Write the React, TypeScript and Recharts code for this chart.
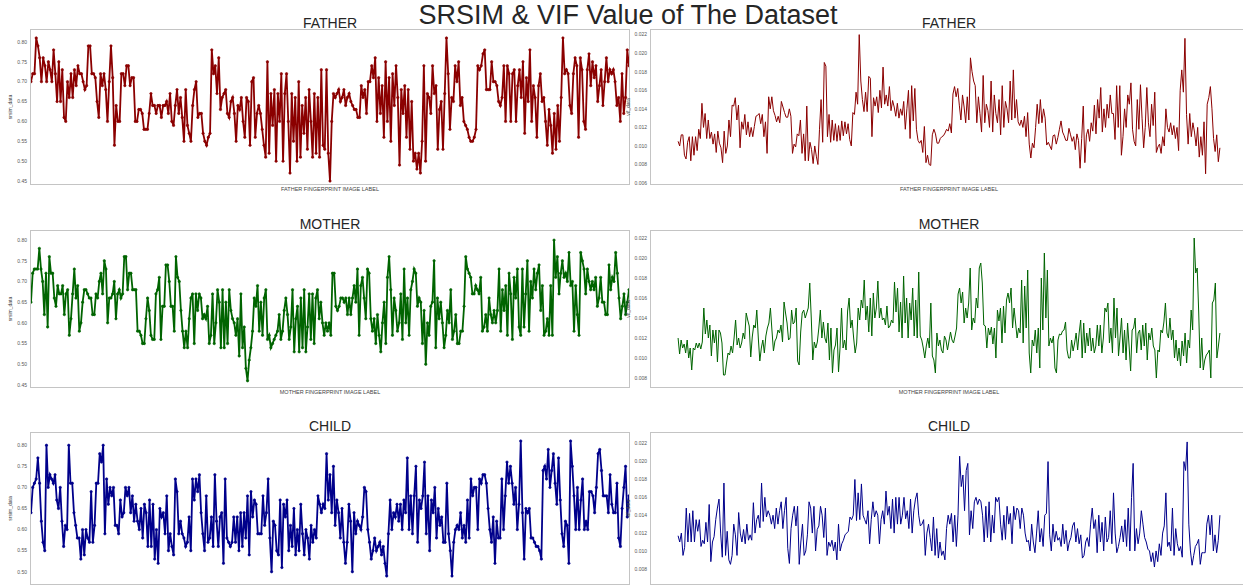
import { LineChart, Line, XAxis, YAxis } from "recharts"

// SRSIM values (left column)
const fatherSrsim = [
  0.70,0.72,0.72,0.81,0.79,0.76,0.70,0.76,0.74,0.70,0.75,
  0.73,0.70,0.78,0.72,0.65,0.75,0.65,0.73,0.61,0.60,
  0.70,0.66,0.72,0.66,0.73,0.69,0.74,0.72,0.72,0.70,0.68,0.69,0.79,0.79,
  0.72,0.72,0.71,0.65,0.61,0.72,0.69,0.72,0.68,0.60,0.70,0.79,0.71,0.54,0.64,0.60,
  0.60,0.72,0.72,0.69,0.74,0.74,0.69,0.71,0.71,0.60,0.60,0.63,
  0.63,0.62,0.58,0.58,0.58,0.62,0.67,0.64,0.64,0.62,0.64,0.64,0.61,
  0.64,0.64,0.65,0.62,0.67,0.60,0.59,0.64,0.68,0.62,0.66,0.61,0.55,0.68,0.59,
  0.57,0.55,0.64,0.68,0.70,0.61,0.62,0.62,0.57,0.55,0.54,0.56,0.57,
  0.78,0.72,0.74,0.67,0.76,0.63,0.66,0.67,0.68,0.62,0.61,0.65,0.66,
  0.62,0.55,0.64,0.63,0.66,0.60,0.56,0.66,0.65,0.54,0.70,0.71,
  0.56,0.62,0.64,0.62,0.58,0.54,0.51,0.75,0.52,0.67,0.59,0.68,
  0.50,0.67,0.60,0.72,0.50,0.67,0.72,0.60,0.47,0.67,0.55,
  0.66,0.50,0.70,0.51,0.64,0.57,0.66,0.53,0.68,0.60,0.51,0.67,
  0.52,0.66,0.51,0.73,0.54,0.53,0.73,0.52,0.45,0.60,
  0.67,0.66,0.67,0.68,0.65,0.66,0.68,0.64,0.66,0.67,
  0.65,0.64,0.63,0.63,0.61,0.61,0.69,0.66,0.68,0.62,0.70,
  0.70,0.74,0.71,0.76,0.60,0.71,0.62,0.69,0.56,0.75,0.60,0.71,
  0.55,0.72,0.64,0.74,0.66,0.49,0.68,0.62,0.69,0.56,0.68,
  0.53,0.65,0.50,0.52,0.48,0.52,0.47,0.55,0.74,0.50,0.67,
  0.66,0.62,0.74,0.67,0.69,0.53,0.63,0.65,0.53,0.67,
  0.81,0.72,0.58,0.66,0.65,0.74,0.70,0.75,0.64,
  0.66,0.60,0.59,0.58,0.56,0.55,0.55,0.56,0.58,
  0.74,0.73,0.74,0.77,0.78,0.68,0.68,0.68,0.75,0.70,
  0.70,0.69,0.65,0.64,0.66,0.74,0.60,0.74,0.72,0.60,
  0.72,0.73,0.60,0.69,0.73,0.66,0.75,0.57,0.71,0.65,0.78,0.60,
  0.69,0.66,0.56,0.69,0.72,0.65,0.66,0.60,0.54,0.63,
  0.59,0.52,0.62,0.53,0.64,0.55,0.66,0.81,0.72,0.73,0.72,
  0.64,0.62,0.72,0.76,0.74,0.56,0.76,0.73,0.60,0.58,
  0.73,0.77,0.69,0.75,0.71,0.74,0.65,0.69,0.73,
  0.64,0.70,0.76,0.70,0.73,0.72,0.73,0.70,0.64,0.66,0.60,
  0.72,0.62,0.66,0.78,0.74,
]

const motherSrsim = [
  0.65,0.72,0.73,0.73,0.73,0.78,0.73,0.70,0.62,0.72,0.59,
  0.76,0.72,0.72,0.66,0.64,0.69,0.67,0.67,0.69,0.62,0.67,0.68,
  0.57,0.61,0.67,0.73,0.66,0.69,0.58,0.60,0.65,0.68,0.68,0.67,
  0.66,0.66,0.62,0.62,0.67,0.66,0.70,0.72,0.67,0.75,0.73,0.60,0.66,0.66,
  0.67,0.70,0.61,0.67,0.68,0.66,0.67,0.76,0.76,0.68,0.72,0.72,0.68,
  0.68,0.68,0.58,0.58,0.57,0.55,0.55,0.61,0.66,0.63,0.57,0.56,0.56,
  0.67,0.68,0.71,0.56,0.64,0.64,0.74,0.74,0.70,0.64,0.64,0.58,
  0.76,0.71,0.70,0.63,0.58,0.54,0.58,0.54,0.61,0.66,0.67,0.55,
  0.67,0.63,0.67,0.66,0.61,0.62,0.61,0.64,0.55,0.57,0.67,0.55,0.60,
  0.68,0.65,0.54,0.68,0.54,0.65,0.55,0.68,0.63,0.61,0.60,0.57,
  0.61,0.52,0.67,0.54,0.59,0.49,0.46,0.51,0.54,
  0.58,0.66,0.64,0.69,0.58,0.65,0.57,0.66,0.68,0.56,0.57,0.54,
  0.55,0.56,0.57,0.58,0.62,0.56,0.58,0.63,0.66,0.62,0.56,0.59,0.68,
  0.53,0.61,0.64,0.53,0.66,0.54,0.68,0.53,0.59,0.67,0.56,0.67,
  0.55,0.66,0.68,0.61,0.65,0.60,0.57,0.60,0.58,0.60,0.57,
  0.72,0.72,0.64,0.63,0.64,0.66,0.66,0.65,0.66,0.62,0.66,
  0.62,0.66,0.69,0.65,0.73,0.57,0.69,0.71,0.66,0.61,0.73,0.72,0.61,
  0.58,0.61,0.55,0.62,0.57,0.53,0.60,0.65,0.55,0.71,0.76,0.68,
  0.57,0.66,0.63,0.58,0.60,0.67,0.56,0.73,0.60,0.66,0.57,0.68,
  0.70,0.73,0.72,0.64,0.66,0.65,0.55,0.63,0.50,0.60,0.57,0.64,
  0.65,0.75,0.54,0.66,0.61,0.65,0.60,0.54,0.57,0.63,0.60,
  0.68,0.56,0.58,0.62,0.55,0.55,0.58,0.58,0.64,0.76,0.73,
  0.72,0.71,0.67,0.67,0.69,0.68,0.67,0.71,0.58,0.59,0.62,0.58,
  0.66,0.62,0.60,0.63,0.60,0.63,0.73,0.58,0.68,0.63,0.69,0.57,
  0.72,0.67,0.56,0.71,0.66,0.73,0.59,0.57,0.73,0.59,0.67,
  0.75,0.58,0.70,0.66,0.73,0.68,0.72,0.74,0.63,0.69,0.57,0.58,
  0.61,0.57,0.69,0.57,0.80,0.71,0.76,0.67,0.72,0.75,
  0.71,0.72,0.70,0.77,0.69,0.70,0.58,0.69,0.62,0.57,0.77,
  0.75,0.73,0.67,0.73,0.70,0.68,0.70,0.68,0.71,0.64,0.66,
  0.71,0.65,0.65,0.62,0.62,0.74,0.68,0.71,0.70,0.77,0.72,0.66,0.61,
  0.64,0.67,0.62,0.65,0.68,
]

const childSrsim = [
  0.64,0.70,0.71,0.72,0.77,0.71,0.62,0.57,0.55,0.80,0.70,0.73,
  0.72,0.71,0.73,0.67,0.65,0.70,0.62,0.56,0.61,0.60,0.80,
  0.71,0.71,0.64,0.61,0.58,0.58,0.53,0.60,0.54,0.60,0.58,0.57,0.69,
  0.57,0.61,0.71,0.71,0.78,0.76,0.80,0.59,0.72,0.66,0.70,0.68,0.70,
  0.61,0.61,0.59,0.67,0.63,0.64,0.70,0.68,0.70,0.64,0.68,0.62,
  0.66,0.62,0.60,0.65,0.58,0.66,0.64,0.56,0.67,0.56,0.66,
  0.53,0.60,0.52,0.65,0.63,0.64,0.59,0.68,0.55,0.59,0.56,
  0.54,0.72,0.69,0.59,0.62,0.59,0.58,0.56,0.57,0.63,0.55,0.72,
  0.67,0.72,0.69,0.73,0.64,0.59,0.55,0.68,0.57,0.58,0.63,0.56,
  0.73,0.62,0.56,0.63,0.64,0.52,0.72,0.58,0.57,0.56,0.57,0.63,
  0.57,0.63,0.55,0.64,0.56,0.64,0.58,0.68,0.54,0.69,0.63,
  0.67,0.66,0.59,0.59,0.59,0.68,0.61,0.64,0.72,0.58,0.50,0.62,
  0.61,0.55,0.54,0.67,0.51,0.66,0.63,0.67,0.55,0.61,0.56,
  0.65,0.54,0.60,0.55,0.66,0.59,0.54,0.60,0.58,0.53,0.61,0.57,
  0.60,0.58,0.68,0.66,0.64,0.66,0.65,0.78,0.67,
  0.73,0.64,0.75,0.61,0.67,0.64,0.58,0.65,0.57,0.52,0.57,0.66,
  0.62,0.50,0.64,0.59,0.62,0.61,0.60,0.63,0.70,0.69,0.60,
  0.57,0.53,0.55,0.58,0.55,0.56,0.57,0.54,0.56,0.52,0.49,0.59,
  0.67,0.60,0.64,0.63,0.66,0.62,0.66,0.60,0.67,0.64,0.77,0.60,
  0.68,0.59,0.68,0.75,0.57,0.67,0.65,0.68,0.76,0.59,0.68,
  0.55,0.67,0.64,0.70,0.58,0.65,0.61,0.63,0.57,0.57,0.71,
  0.59,0.55,0.49,0.57,0.60,0.61,0.60,0.64,0.58,0.61,0.57,
  0.67,0.58,0.72,0.68,0.70,0.70,0.60,0.72,0.71,0.73,0.73,
  0.71,0.65,0.60,0.57,0.63,0.52,0.62,0.58,0.58,0.72,0.60,
  0.68,0.76,0.71,0.75,0.71,0.66,0.70,0.60,0.66,0.81,0.64,0.53,
  0.65,0.64,0.65,0.58,0.58,0.57,0.56,0.56,0.55,0.53,0.74,
  0.75,0.72,0.79,0.70,0.74,0.78,0.71,0.66,0.77,0.67,
  0.59,0.56,0.62,0.61,0.52,0.81,0.75,0.68,0.60,0.70,0.60,
  0.67,0.72,0.60,0.62,0.60,0.69,0.69,0.68,0.64,0.70,0.78,
  0.79,0.74,0.68,0.68,0.68,0.64,0.73,0.66,0.64,0.64,0.71,0.58,0.56,
  0.65,0.70,0.75,0.63,0.68,
]

// VIF values (right column)
const fatherVif = [
  0.0105,0.0100,0.0112,0.0112,0.0090,0.0086,0.0104,0.0110,0.0084,0.0110,0.0090,0.0110,0.0095,
  0.0118,0.0108,0.0146,0.0120,0.0135,0.0108,0.0128,0.0108,0.0115,0.0102,0.0113,0.0093,0.0116,0.0103,0.0098,0.0082,
  0.0116,0.0092,0.0100,0.0128,0.0110,0.0144,0.0143,0.0152,0.0128,0.0144,0.0098,0.0126,
  0.0118,0.0134,0.0112,0.0126,0.0110,0.0120,0.0110,0.0121,0.0132,0.0133,0.0135,0.0124,
  0.0134,0.0110,0.0126,0.0092,0.0153,0.0140,0.0153,0.0138,0.0133,0.0126,0.0132,0.0125,
  0.0148,0.0142,0.0136,0.0131,0.0131,0.0140,0.0132,0.0092,0.0102,0.0099,0.0113,0.0111,
  0.0128,0.0092,0.0113,0.0084,0.0143,0.0084,0.0104,0.0096,0.0081,0.0100,0.0089,0.0080,
  0.0118,0.0150,0.0104,0.0190,0.0186,0.0110,0.0134,0.0104,0.0128,0.0106,0.0124,0.0105,
  0.0122,0.0106,0.0127,0.0111,0.0126,0.0113,0.0124,0.0107,0.0100,0.0136,0.0134,0.0158,
  0.0145,0.0220,0.0170,0.0150,0.0137,0.0158,0.0137,0.0175,0.0173,0.0110,0.0152,0.0143,0.0153,
  0.0136,0.0160,0.0141,0.0185,0.0145,0.0155,0.0143,0.0164,0.0138,0.0149,0.0142,0.0132,
  0.0146,0.0130,0.0140,0.0133,0.0148,0.0118,0.0140,0.0160,0.0108,0.0165,0.0127,0.0162,
  0.0118,0.0106,0.0103,0.0106,0.0093,0.0121,0.0082,0.0090,0.0080,0.0079,0.0112,0.0118,
  0.0113,0.0103,0.0103,0.0108,0.0110,0.0111,0.0114,0.0118,0.0116,0.0124,0.0114,0.0156,
  0.0164,0.0153,0.0162,0.0144,0.0128,0.0155,0.0142,0.0125,0.0153,0.0128,0.0195,0.0180,0.0170,
  0.0165,0.0125,0.0153,0.0135,0.0115,0.0176,0.0125,0.0145,0.0138,0.0120,0.0170,0.0115,0.0155,
  0.0135,0.0125,0.0150,0.0112,0.0165,0.0120,0.0148,0.0140,0.0125,0.0170,0.0128,0.0182,0.0130,
  0.0150,0.0126,0.0122,0.0128,0.0120,0.0132,0.0110,0.0136,0.0102,0.0087,0.0103,0.0098,
  0.0120,0.0145,0.0124,0.0150,0.0125,0.0140,0.0130,0.0101,0.0104,0.0100,0.0096,0.0111,0.0112,
  0.0102,0.0109,0.0118,0.0127,0.0115,0.0111,0.0106,0.0106,0.0119,0.0112,0.0105,0.0110,0.0096,
  0.0113,0.0106,0.0076,0.0108,0.0143,0.0082,0.0112,0.0118,0.0105,0.0125,0.0116,0.0144,0.0113,
  0.0150,0.0130,0.0163,0.0115,0.0140,0.0120,0.0145,0.0130,0.0155,0.0135,0.0135,0.0107,0.0165,
  0.0120,0.0165,0.0090,0.0110,0.0140,0.0120,0.0155,0.0145,0.0168,0.0118,0.0105,0.0100,0.0150,
  0.0118,0.0166,0.0130,0.0098,0.0120,0.0163,0.0125,0.0110,0.0145,0.0122,0.0158,0.0093,0.0099,
  0.0102,0.0092,0.0110,0.0100,0.0140,0.0120,0.0115,0.0125,0.0112,0.0122,0.0108,0.0120,0.0095,
  0.0160,0.0182,0.0158,0.0216,0.0134,0.0102,0.0135,0.0110,0.0125,0.0115,0.0100,
  0.0120,0.0088,0.0110,0.0090,0.0126,0.0070,0.0145,0.0152,0.0164,0.0140,0.0108,0.0094,0.0112,0.0083,0.0098,
]

const motherVif = [
  0.0120,0.0104,0.0118,0.0110,0.0114,0.0105,0.0118,0.0100,0.0110,0.0088,0.0110,0.0108,0.0115,
  0.0110,0.0115,0.0109,0.0116,0.0150,0.0124,0.0138,0.0120,0.0133,0.0102,0.0128,0.0115,0.0128,0.0096,0.0128,
  0.0125,0.0115,0.0083,0.0083,0.0095,0.0105,0.0103,0.0112,0.0105,0.0120,0.0138,0.0113,
  0.0120,0.0110,0.0115,0.0125,0.0119,0.0145,0.0138,0.0132,0.0101,0.0121,0.0133,0.0130,0.0148,
  0.0120,0.0097,0.0110,0.0118,0.0105,0.0122,0.0130,0.0135,0.0150,0.0128,0.0107,0.0117,0.0120,
  0.0128,0.0125,0.0133,0.0116,0.0156,0.0145,0.0135,0.0118,0.0120,0.0148,0.0134,0.0136,0.0150,
  0.0097,0.0093,0.0126,0.0145,0.0148,0.0140,0.0145,0.0150,0.0175,0.0140,0.0098,0.0116,0.0110,
  0.0116,0.0130,0.0148,0.0120,0.0136,0.0120,0.0115,0.0135,0.0098,0.0130,0.0085,0.0108,0.0113,
  0.0130,0.0086,0.0110,0.0150,0.0110,0.0118,0.0108,0.0147,0.0160,0.0130,0.0138,0.0120,0.0105,
  0.0115,0.0150,0.0138,0.0158,0.0150,0.0178,0.0138,0.0152,0.0126,0.0160,0.0122,0.0165,0.0140,
  0.0150,0.0177,0.0140,0.0150,0.0138,0.0140,0.0133,0.0152,0.0130,0.0132,0.0138,0.0135,0.0176,
  0.0146,0.0170,0.0126,0.0156,0.0120,0.0182,0.0135,0.0160,0.0120,0.0155,0.0138,0.0170,0.0122,
  0.0158,0.0120,0.0186,0.0122,0.0118,0.0110,0.0100,0.0112,0.0120,0.0110,0.0155,0.0102,0.0098,0.0085,
  0.0125,0.0112,0.0118,0.0108,0.0105,0.0122,0.0118,0.0108,0.0117,0.0126,0.0118,0.0115,0.0122,
  0.0130,0.0164,0.0170,0.0155,0.0166,0.0135,0.0150,0.0140,0.0155,0.0190,0.0128,0.0140,0.0135,
  0.0160,0.0150,0.0190,0.0195,0.0175,0.0133,0.0132,0.0110,0.0130,0.0123,0.0131,0.0114,0.0130,
  0.0100,0.0148,0.0137,0.0150,0.0115,0.0152,0.0125,0.0158,0.0165,0.0155,0.0170,0.0130,0.0150,
  0.0135,0.0120,0.0130,0.0125,0.0178,0.0115,0.0172,0.0130,0.0188,0.0105,0.0085,0.0118,0.0112,0.0128,
  0.0105,0.0130,0.0090,0.0180,0.0128,0.0205,0.0140,0.0188,0.0112,0.0120,0.0115,0.0122,
  0.0090,0.0085,0.0118,0.0124,0.0123,0.0127,0.0128,0.0136,0.0108,0.0100,0.0100,0.0118,0.0107,0.0115,
  0.0125,0.0108,0.0125,0.0138,0.0100,0.0135,0.0105,0.0125,0.0112,0.0130,0.0107,0.0120,0.0105,
  0.0112,0.0133,0.0112,0.0133,0.0105,0.0120,0.0150,0.0146,0.0155,0.0115,0.0130,0.0105,0.0160,
  0.0120,0.0150,0.0102,0.0120,0.0140,0.0105,0.0128,0.0098,0.0135,0.0112,0.0087,0.0128,0.0130,
  0.0140,0.0105,0.0125,0.0128,0.0108,0.0133,0.0112,0.0135,0.0098,0.0125,0.0118,0.0130,0.0112,
  0.0108,0.0080,0.0108,0.0106,0.0128,0.0125,0.0136,0.0155,0.0125,0.0120,0.0140,0.0118,0.0128,
  0.0100,0.0118,0.0097,0.0110,0.0092,0.0117,0.0102,0.0125,0.0095,0.0118,0.0110,0.0148,0.0128,
  0.0220,0.0185,0.0190,0.0145,0.0090,0.0120,0.0088,0.0098,0.0103,0.0105,0.0108,0.0080,0.0155,0.0158,0.0175,0.0100,0.0112,0.0125,
]

const childVif = [
  0.0117,0.0110,0.0120,0.0095,0.0104,0.0148,0.0110,0.0142,0.0110,0.0145,0.0110,0.0135,
  0.0122,0.0135,0.0105,0.0112,0.0108,0.0132,0.0110,0.0152,0.0088,0.0110,0.0116,0.0135,
  0.0148,0.0158,0.0120,0.0093,0.0176,0.0095,0.0122,0.0090,0.0085,0.0095,0.0130,0.0118,
  0.0095,0.0143,0.0120,0.0110,0.0124,0.0108,0.0130,0.0112,0.0118,0.0112,0.0154,0.0120,0.0135,
  0.0140,0.0126,0.0176,0.0133,0.0160,0.0138,0.0145,0.0140,0.0130,0.0140,0.0125,0.0148,
  0.0130,0.0145,0.0155,0.0125,0.0145,0.0160,0.0103,0.0086,0.0125,0.0140,0.0150,0.0128,0.0150,
  0.0085,0.0110,0.0130,0.0095,0.0100,0.0118,0.0155,0.0148,0.0120,0.0150,0.0100,0.0124,
  0.0128,0.0150,0.0140,0.0115,0.0148,0.0095,0.0110,0.0105,0.0112,0.0100,0.0110,0.0090,
  0.0130,0.0100,0.0108,0.0112,0.0118,0.0120,0.0122,0.0138,0.0135,0.0140,0.0180,0.0134,
  0.0165,0.0135,0.0175,0.0140,0.0135,0.0130,0.0145,0.0108,0.0135,0.0155,0.0138,0.0145,0.0140,
  0.0108,0.0135,0.0145,0.0130,0.0167,0.0140,0.0150,0.0125,0.0158,0.0120,0.0160,0.0130,0.0160,
  0.0130,0.0140,0.0160,0.0136,0.0145,0.0125,0.0158,0.0120,0.0145,0.0158,0.0165,0.0140,
  0.0128,0.0130,0.0135,0.0095,0.0120,0.0130,0.0115,0.0100,0.0138,0.0095,0.0125,0.0092,
  0.0110,0.0095,0.0100,0.0090,0.0125,0.0140,0.0130,0.0142,0.0110,0.0140,0.0105,0.0140,
  0.0206,0.0172,0.0185,0.0145,0.0190,0.0198,0.0118,0.0145,0.0125,0.0155,0.0160,0.0152,
  0.0158,0.0155,0.0140,0.0110,0.0150,0.0115,0.0155,0.0110,0.0140,0.0120,0.0160,0.0155,
  0.0160,0.0130,0.0112,0.0140,0.0113,0.0150,0.0130,0.0142,0.0108,0.0150,0.0135,0.0148,
  0.0145,0.0125,0.0148,0.0140,0.0120,0.0110,0.0112,0.0100,0.0130,0.0110,0.0098,0.0120,
  0.0145,0.0110,0.0125,0.0105,0.0140,0.0142,0.0200,0.0118,0.0100,0.0130,0.0110,0.0122,
  0.0112,0.0115,0.0105,0.0130,0.0108,0.0123,0.0100,0.0110,0.0115,0.0128,0.0132,0.0110,
  0.0125,0.0108,0.0118,0.0092,0.0095,0.0110,0.0115,0.0105,0.0130,0.0148,0.0125,0.0135,
  0.0098,0.0140,0.0110,0.0132,0.0100,0.0138,0.0110,0.0115,0.0145,0.0108,0.0165,0.0120,
  0.0098,0.0105,0.0115,0.0128,0.0110,0.0135,0.0105,0.0148,0.0100,0.0160,0.0198,0.0100,
  0.0125,0.0108,0.0120,0.0145,0.0130,0.0115,0.0110,0.0102,0.0100,0.0088,0.0098,0.0082,
  0.0100,0.0088,0.0108,0.0095,0.0120,0.0128,0.0165,0.0105,0.0110,0.0100,0.0148,0.0095,
  0.0125,0.0108,0.0100,0.0105,0.0093,0.0200,0.0190,0.0222,0.0130,0.0100,0.0084,0.0095,
  0.0105,0.0108,0.0113,0.0085,0.0098,0.0098,0.0098,0.0130,0.0140,0.0118,0.0140,0.0100,0.0118,0.0098,0.0112,0.0140,
]

const srsimTicks = [0.45, 0.5, 0.55, 0.6, 0.65, 0.7, 0.75, 0.8]
const childSrsimTicks = [0.5, 0.55, 0.6, 0.65, 0.7, 0.75, 0.8]
const fatherVifTicks = [0.006, 0.008, 0.01, 0.012, 0.014, 0.016, 0.018, 0.02, 0.022]
const vifTicks = [0.008, 0.01, 0.012, 0.014, 0.016, 0.018, 0.02, 0.022]

const FONT = "'Liberation Sans', Arial, sans-serif"

type PanelProps = {
  values: number[]
  left: number
  top: number
  width: number
  height: number
  yDomain: [number, number]
  yTicks: number[]
  digits: number
  color: string
  markers: boolean
}

function Panel({ values, left, top, width, height, yDomain, yTicks, digits, color, markers }: PanelProps) {
  const rows = values.map((v, i) => ({ i, v }))
  const n = values.length - 1
  // right column keeps matplotlib's 5% x margin, left column runs edge to edge
  const xDomain = markers ? [0, n] : [-n * 0.05, n * 1.05]
  const axisW = 30
  const pad = 6 // room so the end tick labels are not clipped
  return (
    <>
      <div
        style={{
          position: "absolute",
          left: left - 1,
          top: top - 1,
          width: width + 2,
          height: height + 2,
          border: "1.5px solid #c4c4c4",
          boxSizing: "border-box",
        }}
      />
      <div style={{ position: "absolute", left: left - axisW, top: top - pad }}>
        <LineChart width={width + axisW} height={height + pad * 2} data={rows} margin={{ top: pad, right: 0, bottom: pad, left: 0 }}>
          <XAxis dataKey="i" type="number" domain={xDomain} hide allowDataOverflow />
          <YAxis
            type="number"
            width={axisW}
            domain={yDomain}
            ticks={yTicks}
            interval={0}
            allowDataOverflow
            axisLine={false}
            tickLine={false}
            tickSize={2}
            tick={{ fontSize: 5, fill: "#555", fontFamily: FONT }}
            tickFormatter={(v: number) => v.toFixed(digits)}
          />
          <Line
            type="linear"
            dataKey="v"
            stroke={color}
            strokeWidth={markers ? 1.8 : 1}
            dot={markers ? { r: 1.2, fill: color, stroke: color, strokeWidth: 0.6 } : false}
            isAnimationActive={false}
          />
        </LineChart>
      </div>
    </>
  )
}

const rowsLayout = [
  { name: "FATHER", top: 30, height: 154, srsim: fatherSrsim, vif: fatherVif, color: "#8b0000", showLabel: true,
    sDomain: [0.4425, 0.83] as [number, number], sTicks: srsimTicks,
    vDomain: [0.0059, 0.0225] as [number, number], vTicks: fatherVifTicks },
  { name: "MOTHER", top: 231, height: 156, srsim: motherSrsim, vif: motherVif, color: "#006400", showLabel: true,
    sDomain: [0.445, 0.822] as [number, number], sTicks: srsimTicks,
    vDomain: [0.0071, 0.0227] as [number, number], vTicks: vifTicks },
  { name: "CHILD", top: 433, height: 151, srsim: childSrsim, vif: childVif, color: "#00008b", showLabel: false,
    sDomain: [0.471, 0.829] as [number, number], sTicks: childSrsimTicks,
    vDomain: [0.0063, 0.0232] as [number, number], vTicks: vifTicks },
]

export default function App() {
  return (
    <div style={{ position: "absolute", left: 0, top: 0, width: 1243, height: 586, background: "#fff", overflow: "hidden", fontFamily: FONT }}>
      {rowsLayout.map((r) => (
        <div key={r.name}>
          <Panel values={r.srsim} left={31} top={r.top} width={598} height={r.height}
            yDomain={r.sDomain} yTicks={r.sTicks} digits={2} color={r.color} markers />
          <Panel values={r.vif} left={651} top={r.top} width={596} height={r.height}
            yDomain={r.vDomain} yTicks={r.vTicks} digits={3} color={r.color} markers={false} />
        </div>
      ))}
      <svg width={1243} height={586} style={{ position: "absolute", left: 0, top: 0, pointerEvents: "none" }}>
        <text x={628} y={24} textAnchor="middle" fontSize={27} fill="#262626" fontFamily={FONT}>
          SRSIM &amp; VIF Value of The Dataset
        </text>
        {rowsLayout.map((r) => (
          <g key={r.name}>
            <text x={330} y={r.top - 2} textAnchor="middle" fontSize={14} fill="#262626" fontFamily={FONT}>{r.name}</text>
            <text x={949} y={r.top - 2} textAnchor="middle" fontSize={14} fill="#262626" fontFamily={FONT}>{r.name}</text>
            {r.showLabel && (
              <>
                <text x={330} y={r.top + r.height + 7} textAnchor="middle" fontSize={5.5} fill="#444" fontFamily={FONT}>
                  {r.name} FINGERPRINT IMAGE LABEL
                </text>
                <text x={949} y={r.top + r.height + 7} textAnchor="middle" fontSize={5.5} fill="#444" fontFamily={FONT}>
                  {r.name} FINGERPRINT IMAGE LABEL
                </text>
              </>
            )}
            <text x={12} y={r.top + r.height / 2} textAnchor="middle" fontSize={5} fill="#444" fontFamily={FONT}
              transform={`rotate(-90 12 ${r.top + r.height / 2})`}>srsim_data</text>
            <text x={630} y={r.top + r.height / 2} textAnchor="middle" fontSize={5} fill="#444" fontFamily={FONT}
              transform={`rotate(-90 630 ${r.top + r.height / 2})`}>vif_data</text>
          </g>
        ))}
      </svg>
    </div>
  )
}
